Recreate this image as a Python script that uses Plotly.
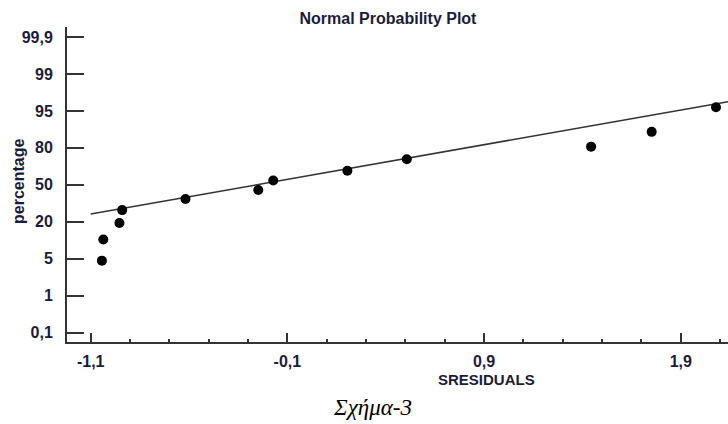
import numpy as np
import plotly.graph_objects as go

# Standardized residuals (x) and their cumulative percentages (y)
sresiduals = [-1.043, -1.036, -0.954, -0.940, -0.618, -0.248, -0.172, 0.205, 0.507, 1.444, 1.752, 2.079]
percentage = [4.8, 12.8, 19.5, 29.5, 38.5, 45.8, 53.5, 61.5, 70.8, 80.5, 86.5, 95.4]

# Fitted reference line (end points)
line_x = [-1.10, 2.14]
line_pct = [26.3, 96.0]

# Probability-scale tick labels (evenly spaced on the chart)
y_tick_pct = [0.1, 1, 5, 20, 50, 80, 95, 99, 99.9]
y_tick_text = ["0,1", "1", "5", "20", "50", "80", "95", "99", "99,9"]
x_tick_vals = [-1.1, -0.1, 0.9, 1.9]
x_tick_text = ["-1,1", "-0,1", "0,9", "1,9"]

y_pos_ticks = list(range(len(y_tick_pct)))


def to_scale(p):
    return np.interp(p, y_tick_pct, y_pos_ticks)


axis_col = "#333333"
txt_col = "#1c1c3a"
font_b = "Liberation Sans"

fig = go.Figure()
fig.add_trace(go.Scatter(x=line_x, y=to_scale(line_pct), mode="lines",
                         line=dict(color="#333333", width=1.5), hoverinfo="skip",
                         showlegend=False))
fig.add_trace(go.Scatter(x=sresiduals, y=to_scale(percentage), mode="markers",
                         marker=dict(color="black", size=10), showlegend=False))

W, H = 728, 424
L, R, T, B = 67, 0, 27, 82
pw, ph = W - L - R, H - T - B


def px_x(px):
    return (px - L) / pw


def px_y(py):
    return (H - B - py) / ph


fig.update_layout(
    width=W, height=H,
    margin=dict(l=L, r=R, t=T, b=B, pad=0),
    paper_bgcolor="white", plot_bgcolor="white",
    font=dict(family=font_b, color=txt_col, size=16),
    title=dict(text="<b>Normal Probability Plot</b>", x=388 / W, xanchor="center",
               y=1 - 18 / H, yanchor="middle", xref="container", yref="container",
               font=dict(family=font_b, size=16, color=txt_col)),
    xaxis=dict(range=[-1.2205, 2.140], tickmode="array", tickvals=x_tick_vals,
               ticktext=[f"<b>{t}</b>" for t in x_tick_text],
               showline=True, linecolor=axis_col, linewidth=2,
               ticks="inside", ticklen=9, tickwidth=1.5, tickcolor=axis_col,
               ticklabelstandoff=4,
               minor=dict(tickmode="array", tickvals=list(np.round(np.arange(-1.1, 2.15, 0.2), 2)),
                          ticks="inside", ticklen=3, tickwidth=1.5, tickcolor=axis_col),
               showgrid=False, zeroline=False, fixedrange=True),
    yaxis=dict(range=[-0.251, 8.27], tickmode="array", tickvals=y_pos_ticks,
               ticktext=[f"<b>{t}</b>" for t in y_tick_text],
               showline=True, linecolor=axis_col, linewidth=2,
               ticks="inside", ticklen=17, tickwidth=1.5, tickcolor=axis_col,
               ticklabelstandoff=9,
               showgrid=False, zeroline=False, fixedrange=True),
    annotations=[
        dict(text="<b>percentage</b>", x=px_x(18), y=px_y(182), xref="paper", yref="paper",
             textangle=-90, showarrow=False, xanchor="center", yanchor="middle",
             font=dict(family=font_b, size=16, color=txt_col)),
        dict(text="<b>SRESIDUALS</b>", x=px_x(486), y=px_y(379), xref="paper", yref="paper",
             showarrow=False, xanchor="center", yanchor="middle",
             font=dict(family=font_b, size=15, color=txt_col)),
        dict(text="<i>Σχήμα-3</i>", x=px_x(372.5), y=px_y(407), xref="paper", yref="paper",
             showarrow=False, xanchor="center", yanchor="middle",
             font=dict(family="Liberation Serif", size=23, color="black")),
    ],
)

fig.write_html("out.html")
